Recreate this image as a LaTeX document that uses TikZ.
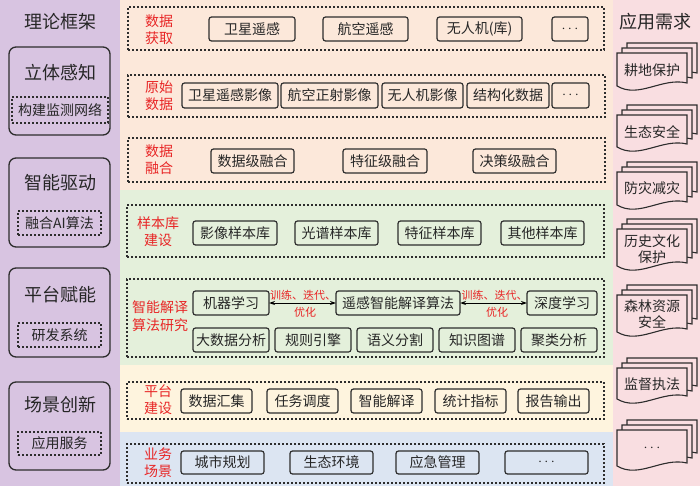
\documentclass[tikz,border=0pt]{standalone}
\usepackage{fontspec}
\setmainfont{Noto Sans CJK SC}
\usetikzlibrary{arrows.meta}
\definecolor{cpurple}{RGB}{216,196,225}
\definecolor{cpeach}{RGB}{252,232,218}
\definecolor{cgreen}{RGB}{228,240,219}
\definecolor{cyellow}{RGB}{254,244,222}
\definecolor{cblue}{RGB}{220,229,242}
\definecolor{cpink}{RGB}{249,222,225}
\definecolor{cred}{RGB}{232,38,38}
\definecolor{cline}{RGB}{45,45,45}
\tikzset{
  every node/.style={inner sep=0pt, outer sep=0pt},
  wh/.style 2 args={minimum width=#1pt, minimum height=#2pt},
  ttl/.style={font=\fontsize{18}{20}\selectfont, text=black!85},
  lbox/.style={draw=cline, line width=1.3pt, rounded corners=7pt},
  grp/.style={draw=cline, line width=1.2pt, dash pattern=on 2pt off 2pt},
  lsub/.style={grp, font=\fontsize{14}{16}\selectfont, text=black!85},
  item/.style={draw=cline, line width=1.2pt, rounded corners=2.5pt, font=\fontsize{14}{16}\selectfont, text=black!85},
  rlbl/.style={text=cred, font=\fontsize{14}{17}\selectfont, align=center},
  alab/.style={text=cred, font=\fontsize{11}{13}\selectfont},
  arr/.style={draw=black, line width=1pt, {Stealth[length=6pt,width=4pt]}-{Stealth[length=6pt,width=4pt]}},
  dsheet/.style={draw=cline, line width=1.1pt, fill=cpink},
  dtext/.style={font=\fontsize{14}{16}\selectfont, align=center, text=black!85},
}
\newcommand\mdoc[5]{%
  \foreach \sh in {10,5,0}{
    \begin{scope}[shift={(617+\sh,#2-\sh)}]
      \draw[dsheet] (0,0) -- (70,0) -- (70,#3-10) .. controls (45,#3-16) and (22,#3+6) .. (0,#3-7) -- cycle;
    \end{scope}
  }
  \node[dtext] (#1) at (652,#4) {#5};
}
\begin{document}
\begin{tikzpicture}[x=1pt,y=-1pt]
\useasboundingbox (0,0) rectangle (700,486);
% backgrounds
\fill[cpurple] (0,0) rectangle (119.5,486);
\fill[cpeach] (119.5,0) rectangle (612.5,190);
\fill[cgreen] (119.5,190) rectangle (612.5,365);
\fill[cyellow] (119.5,365) rectangle (612.5,432);
\fill[cblue] (119.5,432) rectangle (612.5,486);
\fill[cpink] (612.5,0) rectangle (700,486);

% left column
\node[ttl] (tl) at (60,22) {理论框架};
\node[lbox, wh={101}{88}] (L1) at (59.5,91) {};
\node[ttl] (L1t) at (60,73) {立体感知};
\node[lsub, wh={96}{26}] (L1s) at (60,110) {构建监测网络};
\node[lbox, wh={101}{89}] (L2) at (59.5,202.5) {};
\node[ttl] (L2t) at (60,183) {智能驱动};
\node[lsub, wh={83}{24}] (L2s) at (59.5,223) {融合AI算法};
\node[lbox, wh={101}{89}] (L3) at (59.5,312.5) {};
\node[ttl] (L3t) at (60,295) {平台赋能};
\node[lsub, wh={83}{24}] (L3s) at (59.5,335) {研发系统};
\node[lbox, wh={101}{88}] (L4) at (59.5,426) {};
\node[ttl] (L4t) at (60,405) {场景创新};
\node[lsub, wh={83}{23}] (L4s) at (59.5,443.5) {应用服务};

% group 1
\node[grp, wh={476}{43}] (g1) at (366,28.5) {};
\node[rlbl] (g1l) at (159,30) {数据\\获取};
\node[item, wh={86}{24}] (a1) at (252,29) {卫星遥感};
\node[item, wh={85}{24}] (a2) at (365.5,29) {航空遥感};
\node[item, wh={85}{24}] (a3) at (479.5,29) {无人机(库)};
\node[item, wh={36}{24}] (a4) at (570,29) {$\cdots$};

% group 2
\node[grp, wh={477}{42}] (g2) at (366.5,96) {};
\node[rlbl] (g2l) at (159,96) {原始\\数据};
\node[item, wh={96}{25}] (b1) at (230,95.5) {卫星遥感影像};
\node[item, wh={97}{25}] (b2) at (329.5,95.5) {航空正射影像};
\node[item, wh={81}{25}] (b3) at (422.5,95.5) {无人机影像};
\node[item, wh={82}{25}] (b4) at (508,95.5) {结构化数据};
\node[item, wh={37}{25}] (b5) at (570.5,95.5) {$\cdots$};

% group 3
\node[grp, wh={477}{44}] (g3) at (366.5,160) {};
\node[rlbl] (g3l) at (159,160) {数据\\融合};
\node[item, wh={83}{24}] (c1) at (252.5,161) {数据级融合};
\node[item, wh={84}{24}] (c2) at (385,161) {特征级融合};
\node[item, wh={83}{24}] (c3) at (514.5,161) {决策级融合};

% group 4
\node[grp, wh={477}{52}] (g4) at (365.5,231) {};
\node[rlbl] (g4l) at (158,232) {样本库\\建设};
\node[item, wh={84}{24}] (d1) at (235,233) {影像样本库};
\node[item, wh={83}{24}] (d2) at (336.5,233) {光谱样本库};
\node[item, wh={83}{24}] (d3) at (439.5,233) {特征样本库};
\node[item, wh={83}{24}] (d4) at (542.5,233) {其他样本库};

% group 5
\node[grp, wh={477}{78}] (g5) at (365.5,318) {};
\node[rlbl, font=\fontsize{14}{18}\selectfont] (g5l) at (160,316) {智能解译\\算法研究};
\node[item, wh={76}{24}] (e1) at (231,303) {机器学习};
\node[item, wh={124}{24}] (e2) at (398,303) {遥感智能解译算法};
\node[item, wh={70}{24}] (e3) at (562,303) {深度学习};
\draw[arr] (e1.east) -- (e2.west);
\draw[arr] (e2.east) -- (e3.west);
\node[alab] (t1a) at (303,295) {训练、迭代、};
\node[alab] (t1b) at (305,312) {优化};
\node[alab] (t2a) at (494.5,295) {训练、迭代、};
\node[alab] (t2b) at (497,312) {优化};
\node[item, wh={76}{24}] (f1) at (231,340) {大数据分析};
\node[item, wh={76}{24}] (f2) at (313,340) {规则引擎};
\node[item, wh={76}{24}] (f3) at (395,340) {语义分割};
\node[item, wh={76}{24}] (f4) at (477,340) {知识图谱};
\node[item, wh={76}{24}] (f5) at (559,340) {聚类分析};

% group 6
\node[grp, wh={477}{37}] (g6) at (365.5,400.5) {};
\node[rlbl] (g6l) at (158,400) {平台\\建设};
\node[item, wh={71}{24}] (h1) at (216.5,401) {数据汇集};
\node[item, wh={71}{24}] (h2) at (302.5,401) {任务调度};
\node[item, wh={71}{24}] (h3) at (386.5,401) {智能解译};
\node[item, wh={71}{24}] (h4) at (470.5,401) {统计指标};
\node[item, wh={71}{24}] (h5) at (553.5,401) {报告输出};

% group 7
\node[grp, wh={477}{39}] (g7) at (365.5,463.5) {};
\node[rlbl] (g7l) at (158,463) {业务\\场景};
\node[item, wh={83}{23}] (k1) at (222.5,462.5) {城市规划};
\node[item, wh={83}{23}] (k2) at (331.5,462.5) {生态环境};
\node[item, wh={83}{23}] (k3) at (437.5,462.5) {应急管理};
\node[item, wh={83}{23}] (k4) at (546.5,462.5) {$\cdots$};

% right column
\node[ttl] (tr) at (655,22) {应用需求};
\mdoc{r1}{53}{40}{70}{耕地保护}
\mdoc{r2}{115}{39}{132}{生态安全}
\mdoc{r3}{172}{40}{188}{防灾减灾}
\mdoc{r4}{229}{44}{249}{历史文化\\保护}
\mdoc{r5}{295}{44}{314.5}{森林资源\\安全}
\mdoc{r6}{368}{38}{384}{监督执法}
\mdoc{r7}{430}{43}{448}{$\cdots$}
\end{tikzpicture}
\end{document}
